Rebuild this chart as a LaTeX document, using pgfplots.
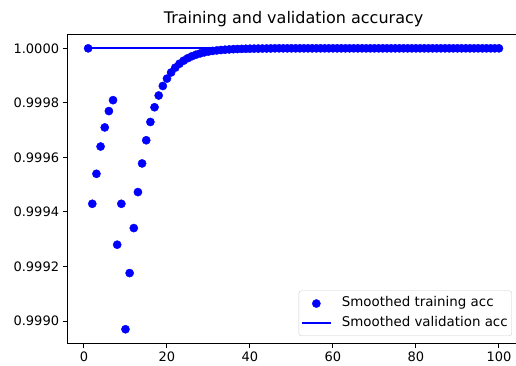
\documentclass[border=0pt]{standalone}
\usepackage{fontspec}
\setmainfont{DejaVu Sans}
\usepackage{pgfplots}
\pgfplotsset{compat=1.18}
\begin{document}
\begin{tikzpicture}
\path[use as bounding box] (-67.6pt,-22.7pt) rectangle (448.4pt,343.3pt);
\begin{axis}[
  at={(0,0)}, anchor=south west,
  scale only axis,
  width=451.9pt, height=309pt,
  xmin=-3.95, xmax=104.95,
  ymin=0.9989185, ymax=1.0000515,
  xtick={0,20,40,60,80,100},
  ytick={0.999,0.9992,0.9994,0.9996,0.9998,1.0},
  scaled y ticks=false,
  yticklabel style={/pgf/number format/.cd, fixed, fixed zerofill, precision=4},
  /pgf/number format/assume math mode=true,
  tick label style={font=\fontsize{13}{15}\selectfont},
  tick align=outside,
  major tick length=5pt,
  tick style={black, line width=1pt},
  xtick pos=bottom, ytick pos=left,
  axis line style={black, line width=1pt},
  title={Training and validation accuracy},
  title style={font=\fontsize{16}{19}\selectfont, inner sep=0pt, yshift=1pt},
  legend style={at={(rel axis cs:1,0)}, anchor=south east, xshift=-7.6pt, yshift=7.3pt,
    font=\fontsize{13.4}{15}\selectfont, draw=black!20, rounded corners=2.5pt,
    inner xsep=2pt, inner ysep=3pt, row sep=0pt,
    nodes={text height=10pt, text depth=3.5pt, inner ysep=3pt},
    /tikz/every odd column/.append style={column sep=8pt}},
  legend cell align=left,
  legend image code/.code={\draw[mark repeat=2,mark phase=2,#1] plot coordinates {(0pt,0pt)(14.5pt,0pt)(29pt,0pt)};},
]
\addplot[only marks, mark=*, mark size=4.1pt, color=blue, mark options={fill=blue, draw=blue}] coordinates {
(1,1.0) (2,0.99943) (3,0.99954) (4,0.99964) (5,0.99971) (6,0.99977) (7,0.99981)
(8,0.99928) (9,0.99943) (10,0.99897) (11,0.999176) (12,0.999341) (13,0.999473)
(14,0.999578) (15,0.999663) (16,0.99973) (17,0.999784) (18,0.999827) (19,0.999862)
(20,0.999889) (21,0.9999115) (22,0.9999292) (23,0.9999434) (24,0.9999547)
(25,0.9999638) (26,0.999971) (27,0.9999768) (28,0.9999814) (29,0.9999852)
(30,0.9999881) (31,0.9999905) (32,0.9999924) (33,0.9999939) (34,0.9999951)
(35,0.9999961) (36,0.9999969) (37,0.9999975) (38,0.999998) (39,0.9999984)
(40,0.9999987) (41,0.999999) (42,0.9999992) (43,0.9999993) (44,0.9999995)
(45,0.9999996) (46,1.0) (47,1.0) (48,1.0) (49,1.0) (50,1.0)
(51,1.0) (52,1.0) (53,1.0) (54,1.0) (55,1.0) (56,1.0) (57,1.0) (58,1.0) (59,1.0) (60,1.0)
(61,1.0) (62,1.0) (63,1.0) (64,1.0) (65,1.0) (66,1.0) (67,1.0) (68,1.0) (69,1.0) (70,1.0)
(71,1.0) (72,1.0) (73,1.0) (74,1.0) (75,1.0) (76,1.0) (77,1.0) (78,1.0) (79,1.0) (80,1.0)
(81,1.0) (82,1.0) (83,1.0) (84,1.0) (85,1.0) (86,1.0) (87,1.0) (88,1.0) (89,1.0) (90,1.0)
(91,1.0) (92,1.0) (93,1.0) (94,1.0) (95,1.0) (96,1.0) (97,1.0) (98,1.0) (99,1.0) (100,1.0)
};
\addlegendentry{Smoothed training acc}
\addplot[color=blue, line width=1.9pt, no marks] coordinates {(1,1.0) (100,1.0)};
\addlegendentry{Smoothed validation acc}
\end{axis}
\end{tikzpicture}
\end{document}
